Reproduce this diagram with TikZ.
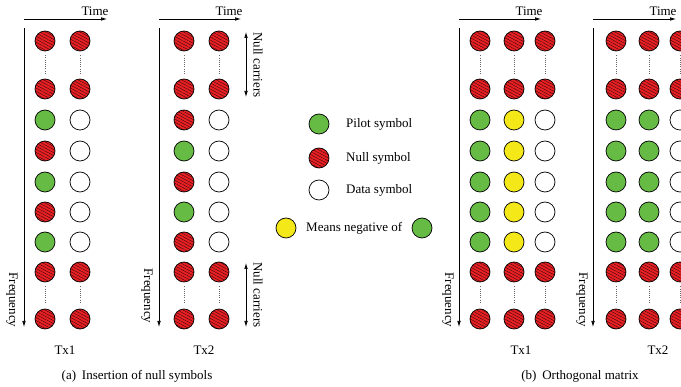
\documentclass[tikz,border=0pt]{standalone}
\usepackage{fontspec}
\setmainfont{Liberation Serif}
\usetikzlibrary{arrows.meta,patterns.meta}

\definecolor{pilotgreen}{RGB}{102,187,68}
\definecolor{nullred}{RGB}{232,32,36}
\definecolor{negyellow}{RGB}{244,232,24}

\tikzset{
  sym/.style={circle, draw=black, line width=0.7pt, minimum size=20pt, inner sep=0pt},
  P/.style={sym, fill=pilotgreen},
  N/.style={sym, preaction={fill=nullred},
            pattern={Lines[angle=-28,distance=2.7pt,line width=0.45pt]},
            pattern color=black!70!nullred},
  W/.style={sym, fill=white},
  Y/.style={sym, fill=negyellow},
  tip/.style={},
  axis/.style={line width=0.7pt, -{Latex[length=6pt,width=3.6pt]}},
  span/.style={line width=0.7pt, {Latex[length=6pt,width=3.6pt]}-{Latex[length=6pt,width=3.6pt]}},
  dotline/.style={line width=0.5pt, black!60, dash pattern=on 0.6pt off 1.6pt,
                  shorten <=4pt, shorten >=5pt},
  lbl/.style={font=\fontsize{13}{15}\selectfont, inner sep=0pt},
}

\begin{document}
\begin{tikzpicture}[x=1pt, y=-1pt]
\clip (0,0) rectangle (681,387);

% ---------- (a) Insertion of null symbols ----------
% Tx1
\coordinate (a1t0) at (24,19);  \coordinate (a1t1) at (107,19);
\coordinate (a1f0) at (24,28);  \coordinate (a1f1) at (24,327);
\draw[axis] (a1t0) -- (a1t1);
\draw[axis] (a1f0) -- (a1f1);
\node[lbl] (a1time) at (95,11) {Time};
\node[lbl, rotate=-90] (a1freq) at (12,300) {Frequency};
\foreach \r/\y/\s/\t in {1/41/N/N, 2/89/N/N, 3/120/P/W, 4/151/N/W, 5/182/P/W,
                         6/212/N/W, 7/242/P/W, 8/272/N/N, 9/319/N/N} {
  \node[\s] (a1-\r-1) at (45,\y) {};
  \node[\t] (a1-\r-2) at (80,\y) {};
}
\foreach \c in {1,2} {
  \draw[dotline] (a1-1-\c.south) -- (a1-2-\c.north);
  \draw[dotline] (a1-8-\c.south) -- (a1-9-\c.north);
}
\node[lbl] (a1name) at (65,350) {Tx1};

% Tx2
\coordinate (a2t0) at (159,19); \coordinate (a2t1) at (241,19);
\coordinate (a2f0) at (159,28); \coordinate (a2f1) at (159,327);
\draw[axis] (a2t0) -- (a2t1);
\draw[axis] (a2f0) -- (a2f1);
\node[lbl] (a2time) at (229,11) {Time};
\node[lbl, rotate=-90] (a2freq) at (147,296) {Frequency};
\foreach \r/\y/\s/\t in {1/41/N/N, 2/89/N/N, 3/120/N/W, 4/151/P/W, 5/182/N/W,
                         6/212/P/W, 7/242/N/W, 8/272/N/N, 9/319/N/N} {
  \node[\s] (a2-\r-1) at (184,\y) {};
  \node[\t] (a2-\r-2) at (219,\y) {};
}
\foreach \c in {1,2} {
  \draw[dotline] (a2-1-\c.south) -- (a2-2-\c.north);
  \draw[dotline] (a2-8-\c.south) -- (a2-9-\c.north);
}
\node[lbl] (a2name) at (204,350) {Tx2};

% null carrier spans
\coordinate (nc0) at (246,32);  \coordinate (nc1) at (246,97);
\coordinate (nc2) at (246,263); \coordinate (nc3) at (246,327);
\draw[span] (nc0) -- (nc1);
\draw[span] (nc2) -- (nc3);
\node[lbl, rotate=-90] (nctop) at (258,65) {Null carriers};
\node[lbl, rotate=-90] (ncbot) at (258,295) {Null carriers};

\node[lbl] (capa) at (137,376) {(a)\hspace{0.45em}Insertion of null symbols};

% ---------- legend ----------
\node[P] (legp) at (319,124) {};
\node[lbl, anchor=west] (legpt) at (346,124) {Pilot symbol};
\node[N] (legn) at (319,158) {};
\node[lbl, anchor=west] (legnt) at (346,158) {Null symbol};
\node[W] (legd) at (319,190) {};
\node[lbl, anchor=west] (legdt) at (346,190) {Data symbol};
\node[Y] (legy) at (286,228) {};
\node[lbl, anchor=west] (legyt) at (306,228) {Means negative of};
\node[P] (legg) at (422,228) {};

% ---------- (b) Orthogonal matrix ----------
% Tx1
\coordinate (b1t0) at (459,19); \coordinate (b1t1) at (541,19);
\coordinate (b1f0) at (459,28); \coordinate (b1f1) at (459,327);
\draw[axis] (b1t0) -- (b1t1);
\draw[axis] (b1f0) -- (b1f1);
\node[lbl] (b1time) at (529,11) {Time};
\node[lbl, rotate=-90] (b1freq) at (448,300) {Frequency};
\foreach \r/\y/\s/\t/\u in {1/41/N/N/N, 2/89/N/N/N, 3/120/P/Y/W, 4/151/P/Y/W,
                            5/182/P/Y/W, 6/212/P/Y/W, 7/242/P/Y/W, 8/272/N/N/N, 9/319/N/N/N} {
  \node[\s] (b1-\r-1) at (480,\y) {};
  \node[\t] (b1-\r-2) at (514,\y) {};
  \node[\u] (b1-\r-3) at (545,\y) {};
}
\foreach \c in {1,2,3} {
  \draw[dotline] (b1-1-\c.south) -- (b1-2-\c.north);
  \draw[dotline] (b1-8-\c.south) -- (b1-9-\c.north);
}
\node[lbl] (b1name) at (521,350) {Tx1};

% Tx2
\coordinate (b2t0) at (593,19); \coordinate (b2t1) at (676,19);
\coordinate (b2f0) at (593,28); \coordinate (b2f1) at (593,327);
\draw[axis] (b2t0) -- (b2t1);
\draw[axis] (b2f0) -- (b2f1);
\node[lbl] (b2time) at (663,11) {Time};
\node[lbl, rotate=-90] (b2freq) at (582,300) {Frequency};
\foreach \r/\y/\s/\t/\u in {1/41/N/N/N, 2/89/N/N/N, 3/120/P/P/W, 4/151/P/P/W,
                            5/182/P/P/W, 6/212/P/P/W, 7/242/P/P/W, 8/272/N/N/N, 9/319/N/N/N} {
  \node[\s] (b2-\r-1) at (616,\y) {};
  \node[\t] (b2-\r-2) at (649,\y) {};
  \node[\u] (b2-\r-3) at (680,\y) {};
}
\foreach \c in {1,2,3} {
  \draw[dotline] (b2-1-\c.south) -- (b2-2-\c.north);
  \draw[dotline] (b2-8-\c.south) -- (b2-9-\c.north);
}
\node[lbl] (b2name) at (658,350) {Tx2};

\node[lbl] (capb) at (580,376) {(b)\hspace{0.45em}Orthogonal matrix};
\end{tikzpicture}
\end{document}
